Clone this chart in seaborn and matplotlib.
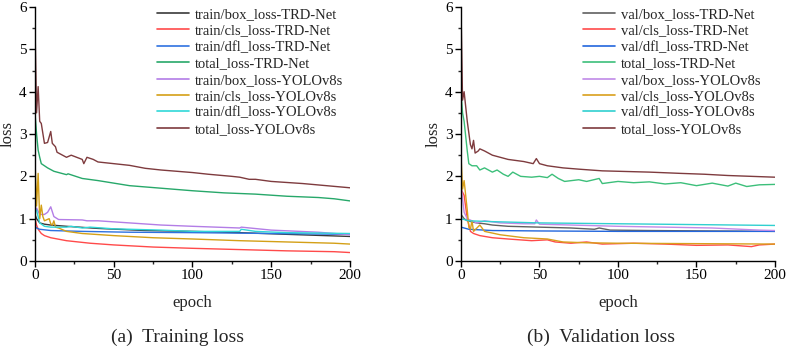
import matplotlib
matplotlib.use("Agg")
import matplotlib.pyplot as plt
from matplotlib.ticker import MultipleLocator
import seaborn as sns
import pandas as pd

# ---------------- Training loss (panel a) ----------------
tr_box_trd_ep = [0, 1, 3, 6, 10, 20, 40, 70, 100, 130, 160, 200]
tr_box_trd = [1.10, 1.00, 0.90, 0.87, 0.85, 0.82, 0.77, 0.72, 0.70, 0.67, 0.63, 0.58]

tr_cls_trd_ep = [0, 1, 2, 4, 6, 10, 20, 35, 50, 75, 100, 130, 160, 190, 200]
tr_cls_trd = [1.00, 0.85, 0.75, 0.65, 0.60, 0.55, 0.48, 0.42, 0.38, 0.33, 0.30, 0.27, 0.24, 0.22, 0.20]

tr_dfl_trd_ep = [0, 1, 3, 10, 30, 60, 100, 150, 200]
tr_dfl_trd = [0.82, 0.78, 0.75, 0.72, 0.70, 0.68, 0.67, 0.65, 0.63]

tr_tot_trd_ep = [0, 1, 2, 3, 4, 6, 8, 12, 20, 21, 30, 40, 50, 60, 80, 100, 120, 140, 160, 180, 190, 200]
tr_tot_trd = [3.50, 3.00, 2.62, 2.45, 2.30, 2.25, 2.20, 2.12, 2.04, 2.06, 1.95, 1.90, 1.84, 1.78, 1.72, 1.66, 1.61, 1.58, 1.53, 1.50, 1.47, 1.42]

tr_box_yolo_ep = [0, 1, 3, 6, 8, 10, 12, 15, 30, 33, 40, 60, 80, 100, 130, 131, 150, 180, 200]
tr_box_yolo = [1.10, 1.25, 1.10, 1.10, 1.15, 1.28, 1.05, 0.98, 0.97, 0.95, 0.95, 0.90, 0.85, 0.82, 0.78, 0.80, 0.73, 0.68, 0.62]

tr_cls_yolo_ep = [0, 1, 2, 3, 4, 5, 6, 9, 10, 11, 12, 13, 15, 20, 30, 50, 75, 100, 130, 160, 190, 200]
tr_cls_yolo = [2.40, 1.30, 2.07, 1.00, 1.32, 1.05, 0.95, 1.00, 0.88, 0.85, 0.95, 0.80, 0.78, 0.70, 0.65, 0.60, 0.55, 0.52, 0.48, 0.45, 0.42, 0.40]

tr_dfl_yolo_ep = [0, 1, 2, 3, 6, 10, 20, 23, 30, 35, 50, 80, 100, 130, 131, 140, 160, 200]
tr_dfl_yolo = [1.22, 1.20, 1.05, 0.90, 0.82, 0.80, 0.80, 0.82, 0.78, 0.80, 0.76, 0.73, 0.70, 0.70, 0.75, 0.70, 0.67, 0.65]

tr_tot_yolo_ep = [0, 1, 2, 3, 4, 6, 8, 10, 11, 13, 14, 20, 23, 30, 31, 33, 37, 40, 50, 60, 70, 80, 100, 110, 125, 130, 136, 140, 150, 170, 185, 200]
tr_tot_yolo = [5.60, 3.50, 4.12, 3.30, 3.25, 2.78, 2.80, 3.06, 2.78, 2.70, 2.57, 2.45, 2.50, 2.40, 2.30, 2.45, 2.40, 2.34, 2.30, 2.26, 2.19, 2.15, 2.09, 2.05, 2.00, 1.98, 1.93, 1.93, 1.88, 1.83, 1.78, 1.73]

# ---------------- Validation loss (panel b) ----------------
va_box_trd_ep = [0, 2, 4, 10, 15, 20, 30, 50, 70, 85, 88, 95, 120, 160, 200]
va_box_trd = [1.10, 1.00, 0.95, 0.90, 0.88, 0.85, 0.82, 0.80, 0.78, 0.75, 0.78, 0.73, 0.72, 0.71, 0.70]

va_cls_trd_ep = [0, 2, 4, 6, 8, 12, 20, 30, 45, 55, 60, 70, 80, 90, 110, 130, 150, 170, 185, 190, 200]
va_cls_trd = [1.70, 1.55, 1.00, 0.70, 0.65, 0.60, 0.55, 0.52, 0.48, 0.50, 0.45, 0.42, 0.45, 0.40, 0.42, 0.40, 0.37, 0.38, 0.34, 0.38, 0.40]

va_dfl_trd_ep = [0, 5, 20, 50, 100, 200]
va_dfl_trd = [0.80, 0.75, 0.72, 0.71, 0.70, 0.70]

va_tot_trd_ep = [0, 1, 2, 4, 5, 7, 10, 12, 15, 20, 23, 27, 30, 33, 38, 45, 50, 55, 58, 62, 66, 75, 80, 88, 90, 100, 110, 120, 130, 140, 150, 160, 170, 175, 182, 190, 200]
va_tot_trd = [4.00, 3.50, 3.30, 2.60, 2.30, 2.25, 2.25, 2.15, 2.20, 2.10, 2.15, 2.05, 2.00, 2.10, 2.00, 1.98, 2.00, 1.97, 2.05, 1.95, 1.88, 1.92, 1.88, 1.95, 1.83, 1.88, 1.85, 1.87, 1.82, 1.85, 1.78, 1.84, 1.77, 1.84, 1.76, 1.80, 1.81]

va_box_yolo_ep = [0, 2, 4, 10, 15, 25, 40, 47, 48, 50, 70, 100, 130, 160, 190, 200]
va_box_yolo = [1.80, 1.15, 1.00, 0.90, 0.95, 0.90, 0.88, 0.88, 0.97, 0.87, 0.85, 0.82, 0.80, 0.78, 0.73, 0.72]

va_cls_yolo_ep = [0, 1, 2, 4, 5, 6, 7, 8, 12, 15, 25, 40, 55, 65, 80, 100, 150, 200]
va_cls_yolo = [2.50, 1.70, 1.90, 1.20, 0.80, 0.75, 0.95, 0.70, 0.85, 0.70, 0.62, 0.55, 0.52, 0.45, 0.43, 0.42, 0.41, 0.40]

va_dfl_yolo_ep = [0, 5, 20, 50, 100, 150, 200]
va_dfl_yolo = [1.00, 0.95, 0.93, 0.90, 0.88, 0.86, 0.84]

va_tot_yolo_ep = [0, 1, 2, 4, 6, 7, 8, 9, 11, 12, 15, 20, 25, 30, 40, 46, 48, 50, 55, 65, 75, 90, 100, 120, 140, 155, 170, 185, 200]
va_tot_yolo = [6.00, 3.80, 4.00, 3.30, 2.75, 2.65, 2.85, 2.55, 2.60, 2.65, 2.60, 2.50, 2.45, 2.40, 2.35, 2.30, 2.42, 2.30, 2.25, 2.20, 2.17, 2.13, 2.12, 2.10, 2.07, 2.05, 2.02, 2.00, 1.98]

train_names = ["train/box_loss-TRD-Net", "train/cls_loss-TRD-Net", "train/dfl_loss-TRD-Net",
               "total_loss-TRD-Net", "train/box_loss-YOLOv8s", "train/cls_loss-YOLOv8s",
               "train/dfl_loss-YOLOv8s", "total_loss-YOLOv8s"]
val_names = ["val/box_loss-TRD-Net", "val/cls_loss-TRD-Net", "val/dfl_loss-TRD-Net",
             "total_loss-TRD-Net", "val/box_loss-YOLOv8s", "val/cls_loss-YOLOv8s",
             "val/dfl_loss-YOLOv8s", "total_loss-YOLOv8s"]

train_series = [(tr_box_trd_ep, tr_box_trd), (tr_cls_trd_ep, tr_cls_trd), (tr_dfl_trd_ep, tr_dfl_trd),
                (tr_tot_trd_ep, tr_tot_trd), (tr_box_yolo_ep, tr_box_yolo), (tr_cls_yolo_ep, tr_cls_yolo),
                (tr_dfl_yolo_ep, tr_dfl_yolo), (tr_tot_yolo_ep, tr_tot_yolo)]
val_series = [(va_box_trd_ep, va_box_trd), (va_cls_trd_ep, va_cls_trd), (va_dfl_trd_ep, va_dfl_trd),
              (va_tot_trd_ep, va_tot_trd), (va_box_yolo_ep, va_box_yolo), (va_cls_yolo_ep, va_cls_yolo),
              (va_dfl_yolo_ep, va_dfl_yolo), (va_tot_yolo_ep, va_tot_yolo)]

train_colors = ["#3a3a3a", "#ff4a4a", "#2f72e0", "#27a86a", "#b37de6", "#d4a017", "#30d8d8", "#7e3b3e"]
val_colors = ["#606060", "#ff4a4a", "#2266dd", "#3cbf7a", "#c08ae8", "#d9a01c", "#30d0d0", "#7e3b3e"]

sns.set_style("ticks")
plt.rcParams['font.family'] = ['Liberation Serif', 'DejaVu Serif']


def make_df(names, series):
    rows = []
    for n, (ep, vals) in zip(names, series):
        for e, v in zip(ep, vals):
            rows.append({"epoch": e, "loss": v, "series": n})
    return pd.DataFrame(rows)


fig = plt.figure(figsize=(7.88, 3.52), dpi=100)
ax1 = fig.add_axes([0.0444, 0.2585, 0.3997, 0.7215])
ax2 = fig.add_axes([0.585, 0.2585, 0.3985, 0.7215])

for ax, names, series, colors, cap, capx in [
        (ax1, train_names, train_series, train_colors, "(a)  Training loss", 0.454),
        (ax2, val_names, val_series, val_colors, "(b)  Validation loss", 0.446)]:
    df = make_df(names, series)
    sns.lineplot(data=df, x="epoch", y="loss", hue="series", hue_order=names,
                 palette=dict(zip(names, colors)), ax=ax, linewidth=1.0,
                 estimator=None, sort=True)
    ax.set_xlim(0, 200)
    ax.set_ylim(0, 6)
    ax.xaxis.set_major_locator(MultipleLocator(50))
    ax.xaxis.set_minor_locator(MultipleLocator(25))
    ax.yaxis.set_major_locator(MultipleLocator(1))
    ax.yaxis.set_minor_locator(MultipleLocator(0.5))
    ax.tick_params(which='major', direction='out', length=4, width=1, labelsize=11,
                   colors='black', pad=2)
    ax.tick_params(which='minor', direction='out', length=2.5, width=1)
    for s in ['left', 'bottom']:
        ax.spines[s].set_linewidth(1.0)
        ax.spines[s].set_color('black')
    sns.despine(ax=ax)
    ax.set_xlabel("epoch", fontsize=12)
    ax.xaxis.set_label_coords(0.5, -0.135)
    ax.set_ylabel("loss", fontsize=12)
    ax.yaxis.set_label_coords(-0.062, 0.5)
    leg = ax.legend(loc='upper left', bbox_to_anchor=(0.37, 1.02), frameon=False,
                    fontsize=10.5, handlelength=2.2, handletextpad=0.4,
                    labelspacing=0.22, borderaxespad=0)
    for line in leg.get_lines():
        line.set_linewidth(1.2)
    ax.text(capx, -0.30, cap, transform=ax.transAxes, ha='center', va='center', fontsize=14)

fig.savefig("out.png", dpi=100)
